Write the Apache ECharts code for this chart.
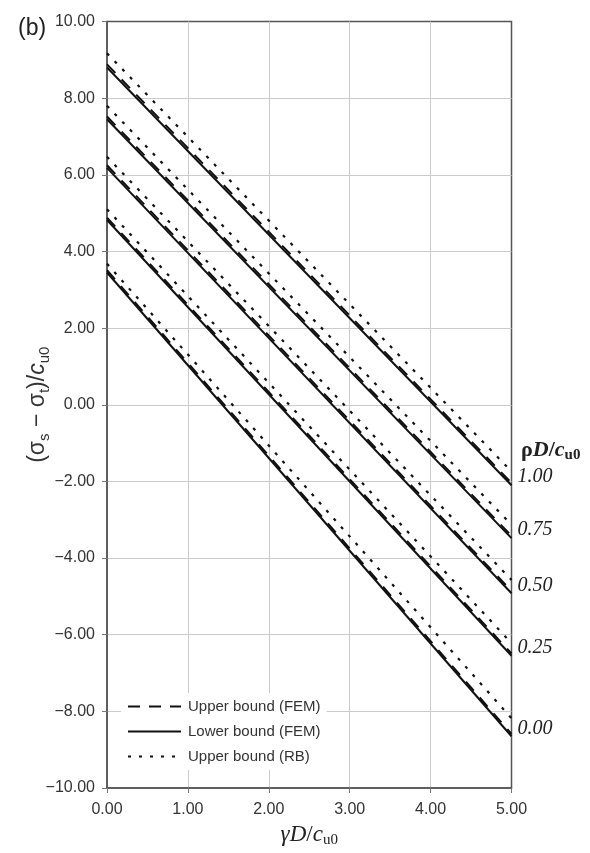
<!DOCTYPE html>
<html>
<head>
<meta charset="utf-8">
<script src="https://cdn.jsdelivr.net/npm/echarts@6/dist/echarts.min.js"></script>
<style>
  html, body { margin: 0; padding: 0; background: #fff; }
  #chart { width: 590px; height: 853px; }
</style>
</head>
<body>
<div id="chart"></div>
<script>
// Normalised load parameter γD/cu0: every curve runs from 0 to 5
const xRange = [0, 5];
// Curve parameter ρD/cu0 for each family of lines
const rhoLabels = ['0.00', '0.25', '0.50', '0.75', '1.00'];
// (σs − σt)/cu0 at γD/cu0 = 0 and at γD/cu0 = 5, one pair per ρD/cu0
const lowerFEM = [[3.45, -8.65], [4.82, -6.55], [6.18, -4.92], [7.45, -3.48], [8.80, -2.10]];
const upperFEM = [[3.51, -8.59], [4.88, -6.49], [6.25, -4.86], [7.52, -3.42], [8.88, -2.04]];
const upperRB  = [[3.68, -8.18], [5.10, -6.22], [6.47, -4.57], [7.80, -3.13], [9.17, -1.74]];
// Axis tick labels
const yTicks = { min: -10, max: 10, step: 2 };
const xTicks = { min: 0, max: 5, step: 1 };

const NAME_UF = 'Upper bound (FEM)';
const NAME_LF = 'Lower bound (FEM)';
const NAME_RB = 'Upper bound (RB)';
const INK = '#111';

function toPoints(pair) {
  return [[xRange[0], pair[0]], [xRange[1], pair[1]]];
}

const series = [];
upperRB.forEach(function (pair) {
  series.push({
    type: 'line', name: NAME_RB, data: toPoints(pair), symbol: 'none', silent: true,
    itemStyle: { color: INK },
    lineStyle: { color: INK, width: 2.2, type: [3, 8] }, z: 2
  });
});
upperFEM.forEach(function (pair) {
  series.push({
    type: 'line', name: NAME_UF, data: toPoints(pair), symbol: 'none', silent: true,
    itemStyle: { color: INK },
    lineStyle: { color: INK, width: 2, type: [12, 9] }, z: 3
  });
});
lowerFEM.forEach(function (pair, i) {
  series.push({
    type: 'line', name: NAME_LF, data: toPoints(pair), symbol: 'none', silent: true,
    itemStyle: { color: INK },
    lineStyle: { color: INK, width: 2 }, z: 4,
    endLabel: {
      show: true,
      formatter: rhoLabels[i],
      distance: 6,
      offset: [0, -8],
      fontFamily: 'Liberation Serif',
      fontStyle: 'italic',
      fontSize: 20,
      color: '#222'
    }
  });
});

const fmt = function (v) {
  return (v < 0 ? '\u2212' : '') + Math.abs(v).toFixed(2);
};

const chart = echarts.init(document.getElementById('chart'), null, { renderer: 'canvas' });
chart.setOption({
  animation: false,
  backgroundColor: '#fff',
  textStyle: { fontFamily: 'Liberation Sans' },
  title: [
    {
      text: '(b)', left: 13, top: 12,
      textStyle: { fontFamily: 'Liberation Sans', fontSize: 23, fontWeight: 'normal', color: '#222' }
    },
    {
      text: '{r|ρ}{i|D}{n|/}{i|c}{s|u0}', left: 516, top: 432,
      textStyle: {
        rich: {
          r: { fontFamily: 'Liberation Serif', fontSize: 22, color: '#222', lineHeight: 26 },
          i: { fontFamily: 'Liberation Serif', fontStyle: 'italic', fontSize: 22, color: '#222', lineHeight: 26 },
          n: { fontFamily: 'Liberation Serif', fontSize: 22, color: '#222', lineHeight: 26 },
          s: { fontFamily: 'Liberation Serif', fontSize: 15, color: '#222', lineHeight: 12, verticalAlign: 'bottom' }
        }
      }
    }
  ],
  grid: {
    left: 107, right: 78.5, top: 21.5, bottom: 64.5,
    show: true, borderColor: '#555', borderWidth: 1.5, backgroundColor: 'transparent'
  },
  legend: {
    orient: 'vertical',
    left: 121, top: 693,
    backgroundColor: '#fff',
    padding: [6, 6, 6, 6],
    itemWidth: 53, itemHeight: 14, itemGap: 10,
    data: [NAME_UF, NAME_LF, NAME_RB],
    itemStyle: { opacity: 0 },
    textStyle: { fontFamily: 'Liberation Sans', fontSize: 15, color: '#333', padding: [0, 0, 0, 2] },
    selectedMode: false
  },
  xAxis: {
    type: 'value', min: xTicks.min, max: xTicks.max, interval: xTicks.step,
    axisLine: { show: true, onZero: false, lineStyle: { color: '#555', width: 1.5 } },
    axisTick: { show: true, length: 5, lineStyle: { color: '#777' } },
    axisLabel: { formatter: fmt, fontSize: 16, color: '#333', margin: 14 },
    splitLine: { show: true, showMinLine: false, showMaxLine: false, lineStyle: { color: '#cbcbcb', width: 1 } },
    name: '{g|γ}{i|D}{n|/}{i|c}{s|u0}',
    nameLocation: 'middle', nameGap: 34, nameMoveOverlap: false,
    nameTextStyle: {
      rich: {
        g: { fontFamily: 'Liberation Serif', fontStyle: 'italic', fontSize: 23, color: '#222', lineHeight: 26 },
        i: { fontFamily: 'Liberation Serif', fontStyle: 'italic', fontSize: 23, color: '#222', lineHeight: 26 },
        n: { fontFamily: 'Liberation Serif', fontSize: 23, color: '#222', lineHeight: 26 },
        s: { fontFamily: 'Liberation Serif', fontSize: 15, color: '#222', lineHeight: 12, verticalAlign: 'bottom' }
      }
    }
  },
  yAxis: {
    type: 'value', min: yTicks.min, max: yTicks.max, interval: yTicks.step,
    axisLine: { show: true, onZero: false, lineStyle: { color: '#555', width: 1.5 } },
    axisTick: { show: true, length: 5, lineStyle: { color: '#777' } },
    axisLabel: { formatter: fmt, fontSize: 16, color: '#333', margin: 12 },
    splitLine: { show: true, showMinLine: false, showMaxLine: false, lineStyle: { color: '#cbcbcb', width: 1 } },
    name: '(σ{s|s} − σ{s|t})/{i|c}{s|u0}',
    nameLocation: 'middle', nameGap: 55, nameRotate: 90, nameMoveOverlap: false,
    nameTextStyle: {
      fontFamily: 'Liberation Sans', fontSize: 23, color: '#333', lineHeight: 28,
      rich: {
        i: { fontFamily: 'Liberation Sans', fontStyle: 'italic', fontSize: 23, color: '#333', lineHeight: 28 },
        s: { fontFamily: 'Liberation Sans', fontSize: 15, color: '#333', lineHeight: 12, verticalAlign: 'bottom' }
      }
    }
  },
  series: series
});
</script>
</body>
</html>
